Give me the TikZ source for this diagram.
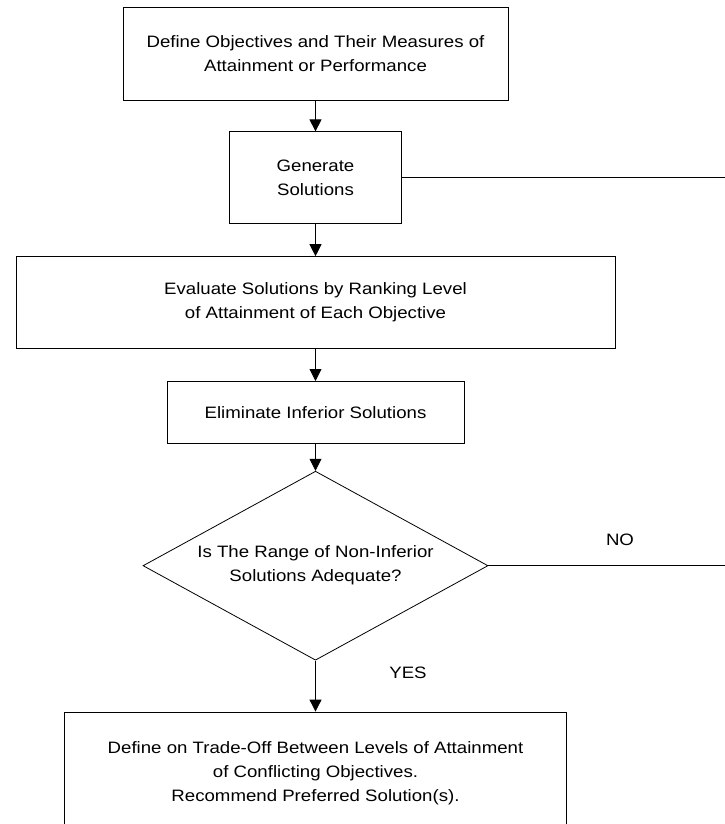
\documentclass[tikz,border=0pt]{standalone}
\usepackage{fontspec}
\setmainfont[FakeStretch=1.13]{Liberation Sans}
\usetikzlibrary{arrows.meta,shapes.geometric,positioning}
\tikzstyle{process}=[rectangle,draw=black,line width=0.8pt,inner sep=3pt,align=center,
  font=\fontsize{16.5pt}{24pt}\selectfont]
\tikzstyle{decision}=[diamond,draw=black,line width=0.8pt,inner sep=0pt,align=center,
  aspect=1.825,minimum width=345pt,minimum height=189pt,
  font=\fontsize{16.5pt}{24pt}\selectfont]
\tikzstyle{flow}=[line width=0.8pt,-{Triangle[width=12pt,length=12pt]}]

\begin{document}
\begin{tikzpicture}
    \clip (0,0) rectangle (725pt,-824pt);
    \coordinate (edge) at (730pt,0);

    \node[process,minimum width=385pt,minimum height=93pt] (define) at (315.5pt,-53.5pt)
      {Define Objectives and Their Measures of\\Attainment or Performance};
    \node[process,minimum width=172pt,minimum height=92pt] (generate) [below=31pt of define]
      {Generate\\Solutions};
    \node[process,minimum width=599pt,minimum height=92pt] (evaluate) [below=32pt of generate]
      {Evaluate Solutions by Ranking Level\\of Attainment of Each Objective};
    \node[process,minimum width=297pt,minimum height=62pt] (eliminate) [below=32pt of evaluate]
      {Eliminate Inferior Solutions};
    \node[decision] (range) [below=27pt of eliminate]
      {Is The Range of Non-Inferior\\Solutions Adequate?};
    \node[process,minimum width=502pt,minimum height=122pt] (tradeoff) [below=51pt of range]
      {Define on Trade-Off Between Levels of Attainment\\of Conflicting Objectives.\\Recommend Preferred Solution(s).};

    \node[font=\fontsize{16.5pt}{24pt}\selectfont] (no) at (620pt,-540pt) {NO};
    \node[font=\fontsize{16.5pt}{24pt}\selectfont] (yes) at (408pt,-673pt) {YES};

    \draw[flow] (define) -- (generate);
    \draw[flow] (generate) -- (evaluate);
    \draw[flow] (evaluate) -- (eliminate);
    \draw[flow] (eliminate) -- (range);
    \draw[flow] (range) -- (tradeoff);
    \draw[line width=0.8pt] (generate.east) -- (generate.east -| edge);
    \draw[line width=0.8pt] (range.east) -- (range.east -| edge);
\end{tikzpicture}
\end{document}
